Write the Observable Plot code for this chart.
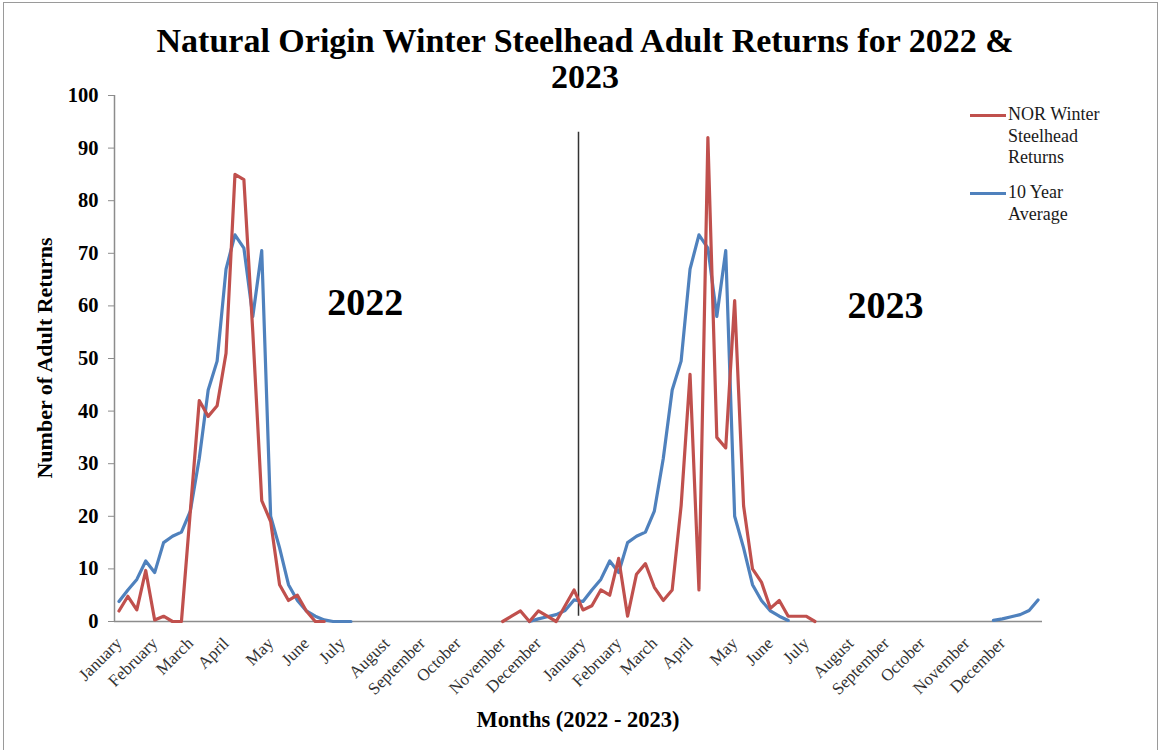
<!DOCTYPE html>
<html><head><meta charset="utf-8">
<script src="https://cdn.jsdelivr.net/npm/d3@7"></script>
<script src="https://cdn.jsdelivr.net/npm/@observablehq/plot@0.6"></script>
<style>
body{margin:0;background:#fff;}
#wrap{position:relative;width:1163px;height:750px;overflow:hidden;font-family:"Liberation Serif","Times New Roman",serif;}
#frame{position:absolute;left:3px;top:2px;width:1153px;height:800px;border:1px solid #9a9a9a;}
#title{position:absolute;left:0;width:1170px;top:23px;text-align:center;font-weight:bold;font-size:34px;line-height:36px;color:#000;}
#chart{position:absolute;left:0;top:0;}
#xtitle{position:absolute;left:328px;width:500px;top:707px;text-align:center;font-weight:bold;font-size:22.5px;color:#000;}
#ytitle{position:absolute;left:-155px;width:400px;top:344px;text-align:center;font-weight:bold;font-size:22px;line-height:28px;color:#000;transform:rotate(-90deg);}
.leg{position:absolute;left:970px;font-size:18px;line-height:21.5px;color:#1a1a1a;}
.leg .sw{position:absolute;left:0;width:36px;height:3px;}
.leg .tx{margin-left:38px;}
</style></head>
<body>
<div id="wrap">
  <div id="frame"></div>
  <div id="chart"></div>
  <div id="title">Natural Origin Winter Steelhead Adult Returns for 2022 &amp;<br>2023</div>
  <div id="xtitle">Months (2022 - 2023)</div>
  <div id="ytitle">Number of Adult Returns</div>
  <div class="leg" style="top:104px"><div class="sw" style="background:#C0504D;top:10px"></div><div class="tx">NOR Winter<br>Steelhead<br>Returns</div></div>
  <div class="leg" style="top:182px"><div class="sw" style="background:#4F81BD;top:10px"></div><div class="tx">10 Year<br>Average</div></div>
</div>
<script>
// weekly values, week index 0..103 (Jan 2022 .. Dec 2023); null = no data
const norReturns = [
  2, 4.8, 2.2, 9.7, 0.3, 1, 0, 0, 21, 42, 39, 41, 51, 85, 84, 55, 23, 19, 7, 4, 5, 2, 0, 0,
  null, null, null, null, null, null, null, null, null, null, null, null, null, null, null, null, null, null, null,
  0, 1, 2, 0, 2, 1, 0, 3, 6,
  2.2, 3, 6, 5, 12, 1, 9, 11, 6.5, 4, 6, 22, 47, 6, 92, 35, 33, 61, 22, 10, 7.5, 2.5, 4, 1, 1, 1, 0,
  null, null, null, null, null, null, null, null, null, null, null, null, null,
  null, null, null, null, null, null, null, null, null, null, null, null
];
const tenYearAvg = [
  3.8, 6, 8, 11.5, 9.3, 15, 16.2, 17, 21, 31, 44, 49.5, 67, 73.5, 71, 58, 70.5, 20, 14, 7, 4, 2, 1, 0.3, 0, 0, 0,
  null, null, null, null, null, null, null, null, null, null, null, null, null, null, null, null, null, null, null,
  0, 0.5, 0.9, 1.3, 2.1, 4.1,
  3.8, 6, 8, 11.5, 9.3, 15, 16.2, 17, 21, 31, 44, 49.5, 67, 73.5, 71, 58, 70.5, 20, 14, 7, 4, 2, 1, 0.2,
  null, null, null, null, null, null, null, null, null, null, null, null, null, null, null, null, null, null, null, null, null, null,
  0.2, 0.5, 0.9, 1.3, 2.1, 4.1
];
const monthNames = ["January","February","March","April","May","June","July","August","September","October","November","December",
  "January","February","March","April","May","June","July","August","September","October","November","December"];
const monthWeeks = [0,4,8,12,17,21,25,30,34,38,43,47, 52,56,60,64,69,73,77,82,86,90,95,99];
const yTicks = [0,10,20,30,40,50,60,70,80,90,100];
const yearLabels = ["2022","2023"];
const yearLabelWeek = [27.6, 85.9];
const yearLabelValue = [60.5, 60];
const dividerWeek = 51.5;
const dividerRange = [1, 93];

const weeks = d3.range(norReturns.length);
const nameByWeek = new Map(monthWeeks.map((w,i)=>[w, monthNames[i]]));

const chart = Plot.plot({
  width: 1163, height: 750,
  marginLeft: 114, marginRight: 121, marginTop: 95, marginBottom: 129,
  x: {domain: [-0.5, 103.5]},
  y: {domain: [0, 100]},
  style: {fontFamily: '"Liberation Serif","Times New Roman",serif', background: "transparent"},
  marks: [
    Plot.axisY({ticks: yTicks, tickSize: 6, tickPadding: 10, fontSize: 20.5, fontWeight: "bold", stroke: "#8c8c8c", fill: "#000", label: null}),
    Plot.axisX({ticks: monthWeeks, tickFormat: d => nameByWeek.get(d), tickRotate: -45, tickSize: 0, tickPadding: 19,
      fontSize: 17, fill: "#333", label: null}),
    Plot.ruleX([-0.5], {stroke: "#8c8c8c", strokeWidth: 1.5}),
    Plot.ruleY([0], {stroke: "#8c8c8c", strokeWidth: 1.5}),
    Plot.ruleX([dividerWeek], {y1: dividerRange[0], y2: dividerRange[1], stroke: "#333", strokeWidth: 1.5}),
    Plot.line(weeks, {x: d => d, y: d => tenYearAvg[d], stroke: "#4F81BD", strokeWidth: 3.2, strokeLinejoin: "round"}),
    Plot.line(weeks, {x: d => d, y: d => norReturns[d], stroke: "#C0504D", strokeWidth: 3.2, strokeLinejoin: "round"}),
    Plot.text(yearLabels, {x: yearLabelWeek, y: yearLabelValue, text: d => d, fontSize: 38, fontWeight: "bold", fill: "#000"})
  ]
});
document.getElementById("chart").appendChild(chart);
</script>
</body></html>
